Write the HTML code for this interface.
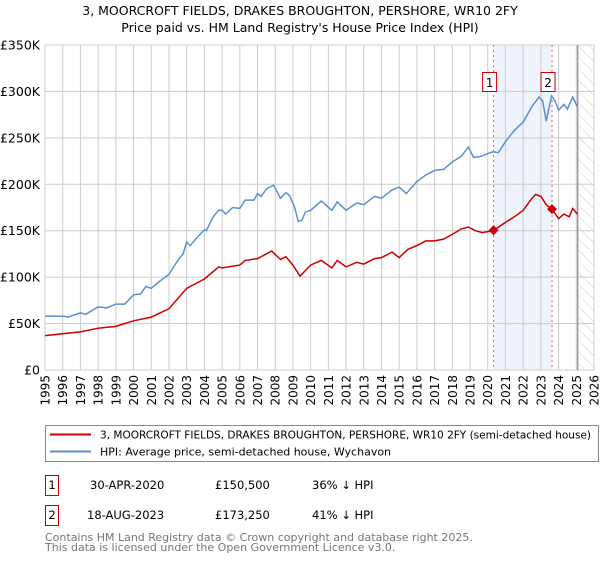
<!DOCTYPE html>
<html><head><meta charset="utf-8">
<style>
body{margin:0;background:#fff;width:600px;height:560px;overflow:hidden;font-family:"Liberation Sans","DejaVu Sans",sans-serif;}
svg text{font-family:"DejaVu Sans","Liberation Sans",sans-serif;}
</style></head><body>
<svg id="chart" width="600" height="560" xmlns="http://www.w3.org/2000/svg">
<defs>
<pattern id="hatch" patternUnits="userSpaceOnUse" width="8" height="8" patternTransform="rotate(-45)">
<line x1="0" y1="0" x2="0" y2="8" stroke="#ccc" stroke-width="1"/></pattern>
</defs>
<text x="300" y="15" text-anchor="middle" font-size="12.5" fill="#000">3, MOORCROFT FIELDS, DRAKES BROUGHTON, PERSHORE, WR10 2FY</text>
<text x="300" y="32" text-anchor="middle" font-size="12.5" fill="#000">Price paid vs. HM Land Registry's House Price Index (HPI)</text>
<g id="plot"></g>
<rect x="45.5" y="425.5" width="553" height="36" fill="#fff" stroke="#888"/>
<line x1="50" y1="434.5" x2="91" y2="434.5" stroke="#cc0000" stroke-width="2"/>
<text x="100" y="438.5" font-size="11" textLength="491" lengthAdjust="spacingAndGlyphs">3, MOORCROFT FIELDS, DRAKES BROUGHTON, PERSHORE, WR10 2FY (semi-detached house)</text>
<line x1="50" y1="451.5" x2="91" y2="451.5" stroke="#5b8fd4" stroke-width="2"/>
<text x="100" y="455.5" font-size="11">HPI: Average price, semi-detached house, Wychavon</text>
<g font-size="11.5">
<rect x="45.5" y="475.5" width="13" height="20" fill="#fff" stroke="#cc0000"/>
<text x="52" y="489" text-anchor="middle">1</text>
<text x="90" y="489">30-APR-2020</text>
<text x="215" y="489">£150,500</text>
<text x="312" y="489">36% ↓ HPI</text></g>
<g font-size="11.5">
<rect x="45.5" y="505.5" width="13" height="20" fill="#fff" stroke="#cc0000"/>
<text x="52" y="519" text-anchor="middle">2</text>
<text x="87" y="519">18-AUG-2023</text>
<text x="215" y="519">£173,250</text>
<text x="312" y="519">41% ↓ HPI</text></g>
<text x="45" y="541" font-size="11" fill="#777">Contains HM Land Registry data © Crown copyright and database right 2025.</text>
<text x="45" y="551" font-size="11" fill="#777">This data is licensed under the Open Government Licence v3.0.</text>
</svg>
<script>
const yTicks=[0,50,100,150,200,250,300,350];
const yTickLabels=["£0","£50K","£100K","£150K","£200K","£250K","£300K","£350K"];
const xYears=[1995,1996,1997,1998,1999,2000,2001,2002,2003,2004,2005,2006,2007,2008,2009,2010,2011,2012,2013,2014,2015,2016,2017,2018,2019,2020,2021,2022,2023,2024,2025,2026];
const hpiDates=[1995,1996,1996.3,1997,1997.3,1998,1998.5,1999,1999.5,2000,2000.4,2000.7,2001,2001.5,2002,2002.5,2002.8,2003,2003.2,2003.6,2004,2004.1,2004.5,2004.8,2005,2005.2,2005.6,2006,2006.3,2006.8,2007,2007.2,2007.5,2007.9,2008.3,2008.6,2008.8,2009.1,2009.3,2009.5,2009.7,2010,2010.6,2011.2,2011.5,2012,2012.6,2013,2013.6,2014,2014.6,2015,2015.4,2016,2016.5,2017,2017.5,2018,2018.5,2018.9,2019.2,2019.6,2020,2020.3,2020.6,2021,2021.5,2022,2022.5,2022.9,2023.1,2023.3,2023.6,2023.8,2024,2024.3,2024.5,2024.8,2025.05];
const hpiValues=[58,58,57,61.5,60,68,67,71,71,81,82,90,88,96,103,118,125,138,134,143,151,150,165,172,172,168,175,174,183,183,190,187,195,199,185,191,188,175,160,161,170,172,182,172,181,172,180,178,187,185,194,197,190,203,210,215,216,224,230,240,229,230,233,235,234,246,258,267,284,294,290,268,295,290,280,286,281,294,284];
const ppDates=[1995,1996,1997,1998,1999,2000,2001,2002,2003,2004,2004.8,2005,2006,2006.3,2007,2007.8,2008.3,2008.6,2009,2009.4,2010,2010.6,2011.2,2011.5,2012,2012.6,2013,2013.6,2014,2014.6,2015,2015.5,2016,2016.5,2017,2017.5,2018,2018.5,2018.9,2019.3,2019.7,2020,2020.33,2021,2021.5,2022,2022.5,2022.7,2023,2023.3,2023.63,2024,2024.3,2024.6,2024.8,2025.05];
const ppValues=[37,39,41,45,47,53,57,66,88,98,111,110,113,118,120,128,119,122,113,101,113,118,110,118,111,116,114,120,121,127,121,130,134,139,139,141,146,152,154,150,148,149,150.5,159,165,172,185,189,187,178,173.25,163,168,165,174,168];
const saleDates=[2020.33,2023.63];
const saleValues=[150.5,173.25];
const saleLabels=["1","2"];

const X0=45,X1=594,Y0=370,Y1=45;
const xs=y=>X0+(y-1995)/(2026-1995)*(X1-X0);
const ys=v=>Y0-v/350*(Y0-Y1);
const NS="http://www.w3.org/2000/svg";
const g=document.getElementById('plot');
function mk(t,a,p){const e=document.createElementNS(NS,t);for(const k in a)e.setAttribute(k,a[k]);(p||g).appendChild(e);return e;}

let r=mk('rect',{x:xs(saleDates[0]),y:Y1,width:xs(saleDates[1])-xs(saleDates[0]),height:Y0-Y1,fill:'#eef3fc'});


const hEnd=2025.08;
r=mk('rect',{x:xs(hEnd),y:Y1,width:X1-xs(hEnd),height:Y0-Y1,fill:'url(#hatch)'});


xYears.forEach(y=>{const l=mk('line',{x1:xs(y),x2:xs(y),y1:Y1,y2:Y0,stroke:'#ccc','stroke-width':1});


const t=mk('text',{x:0,y:0,'font-size':12,'text-anchor':'end',transform:`translate(${xs(y)+4.5},375) rotate(-90)`});t.textContent=y;

});
yTicks.forEach((v,i)=>{const l=mk('line',{x1:X0,x2:X1,y1:ys(v),y2:ys(v),stroke:'#ccc','stroke-width':1});


const t=mk('text',{x:40,y:ys(v)+4.5,'font-size':12.5,'text-anchor':'end'});t.textContent=yTickLabels[i];

});
let vl=mk('line',{x1:xs(hEnd),x2:xs(hEnd),y1:Y1,y2:Y0,stroke:'#888','stroke-width':1.2});


saleDates.forEach((d,i)=>{const l=mk('line',{x1:xs(d),x2:xs(d),y1:Y1,y2:Y0,stroke:'#f06060','stroke-dasharray':'2,3','stroke-width':1});


const b=mk('rect',{x:xs(d)-11,y:72.5,width:14,height:19,fill:'#fff',stroke:'#cc0000'});


const t=mk('text',{x:xs(d)-4,y:87,'font-size':12,'text-anchor':'middle'});t.textContent=saleLabels[i];

});
function path(ds,vs){return ds.map((d,i)=>(i?'L':'M')+xs(d).toFixed(1)+','+ys(vs[i]).toFixed(1)).join('');}
let p=mk('path',{d:path(hpiDates,hpiValues),fill:'none',stroke:'#5b8fd4','stroke-width':1.5});


p=mk('path',{d:path(ppDates,ppValues),fill:'none',stroke:'#cc0000','stroke-width':1.5});


saleDates.forEach((d,i)=>{const x=xs(d),y=ys(saleValues[i]);
const m=mk('path',{d:`M${x},${y-5}L${x+5},${y}L${x},${y+5}L${x-5},${y}Z`,fill:'#cc0000'});

});
</script>
</body></html>
